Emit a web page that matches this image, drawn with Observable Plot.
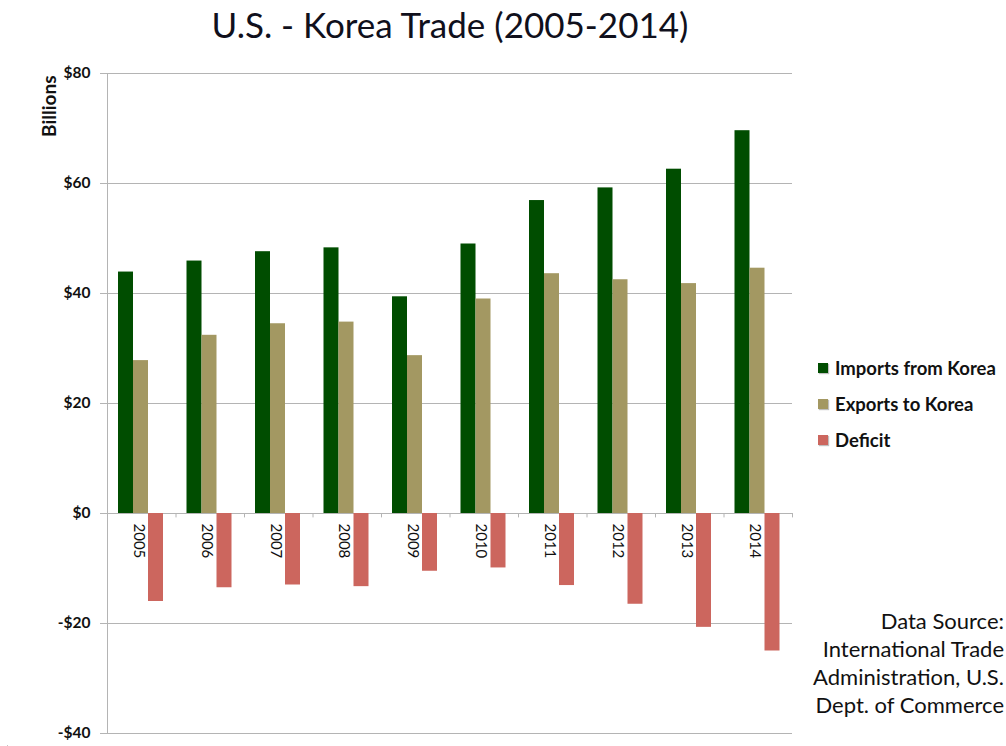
<!DOCTYPE html>
<html><head><meta charset="utf-8">
<script src="https://cdn.jsdelivr.net/npm/d3@7"></script>
<script src="https://cdn.jsdelivr.net/npm/@observablehq/plot@0.6"></script>
<style>
html,body{margin:0;padding:0;background:#fff;overflow:hidden;width:1006px;height:746px;}
#wrap{position:relative;width:1006px;height:746px;font-family:Lato,"Open Sans",sans-serif;}
#title{height:55px;width:900px;text-align:center;font-size:35px;line-height:38px;box-sizing:border-box;color:#10101c;}
#title span{position:relative;top:5px;}
#legend{position:absolute;left:818px;top:350px;font-weight:bold;font-size:18.5px;color:#111;}
#legend .row{height:36px;display:flex;align-items:center;white-space:nowrap;}
#legend .sw{width:10px;height:10px;margin-right:7px;box-shadow:1px 1px 1px rgba(0,0,0,0.25);}
#source{position:absolute;right:2px;top:607px;text-align:right;font-size:22px;line-height:28px;color:#111;white-space:nowrap;}
#edge{position:absolute;left:7px;top:62px;bottom:0;width:1px;background:#c4c4c4;}
#chart{position:absolute;left:0;top:55px;}
</style></head><body>
<div id="wrap">
  <div id="title"><span>U.S. - Korea Trade (2005-2014)</span></div>
  <div id="edge"></div>
  <div id="chart"></div>
  <div id="legend"></div>
  <div id="source">Data Source:<br>International Trade<br>Administration, U.S.<br>Dept. of Commerce</div>
</div>
<script>
// ---- data (billions of US dollars) ----
const years = [2005, 2006, 2007, 2008, 2009, 2010, 2011, 2012, 2013, 2014];
const importsFromKorea = [43.9, 45.9, 47.6, 48.3, 39.4, 49.0, 56.9, 59.2, 62.6, 69.6];
const exportsToKorea = [27.8, 32.4, 34.5, 34.8, 28.7, 39.0, 43.6, 42.5, 41.8, 44.6];
const deficit = [-16.0, -13.5, -13.0, -13.3, -10.5, -9.9, -13.1, -16.5, -20.7, -25.0];
const seriesNames = ["Imports from Korea", "Exports to Korea", "Deficit"];
const seriesColors = ["#004d00", "#a39862", "#cc665e"];
const yTicks = [-40, -20, 0, 20, 40, 60, 80];

const seriesValues = [importsFromKorea, exportsToKorea, deficit];
const rows = [];
seriesNames.forEach((s, k) => years.forEach((yr, i) => rows.push({series: s, year: String(yr), value: seriesValues[k][i]})));

const W = 800, H = 690, mL = 107, mR = 8, mT = 18, mB = 12;
const bw = (W - mL - mR) / years.length; // band width of one year
const barW = 15, groupOff = 11;
const grid = "#b4b4b4";
const money = d => d < 0 ? `-$${-d}` : `$${d}`;

const barMarks = seriesNames.map((s, k) => Plot.barY(rows.filter(r => r.series === s), {
  x: "year", y: "value", fill: seriesColors[k],
  insetLeft: groupOff + k * barW,
  insetRight: bw - groupOff - (k + 1) * barW,
  style: "filter: drop-shadow(1px 1px 1px rgba(0,0,0,0.3))"
}));

const yrs = years.map(String);
const chart = Plot.plot({
  width: W, height: H,
  marginLeft: mL, marginRight: mR, marginTop: mT, marginBottom: mB,
  style: {fontFamily: "Lato, sans-serif", background: "#fff", overflow: "visible"},
  x: {type: "band", domain: yrs, paddingInner: 0, paddingOuter: 0, round: false, axis: null},
  y: {domain: [-40, 80], ticks: yTicks},
  marks: [
    Plot.gridY(yTicks, {stroke: grid, strokeOpacity: 1}),
    Plot.axisY(yTicks, {tickSize: 7, tickPadding: 10, tickFormat: money, fontSize: 15.5, fontWeight: "bold", stroke: grid, fill: "#111", label: null}),
    Plot.frame({anchor: "left", stroke: grid}),
    Plot.ruleX(yrs, {x: d => d, y1: 0, y2: -0.8, dx: -bw / 2, stroke: grid}),
    Plot.ruleX([yrs[yrs.length - 1]], {x: d => d, y1: 0, y2: -0.8, dx: bw / 2, stroke: grid}),
    ...barMarks,
    Plot.text(yrs, {x: d => d, y: 0, text: d => d, rotate: 90, textAnchor: "start", dy: 10, dx: -3, fontSize: 15, fill: "#111"}),
    Plot.text(["Billions"], {frameAnchor: "top-left", text: d => d, rotate: -90, textAnchor: "end", dx: -65, dy: 2, fontSize: 19, fontWeight: "bold", fill: "#111"})
  ]
});
document.getElementById("chart").appendChild(chart);

const legend = document.getElementById("legend");
seriesNames.forEach((s, k) => {
  const row = document.createElement("div");
  row.className = "row";
  row.innerHTML = `<span class="sw" style="background:${seriesColors[k]}"></span><span>${s}</span>`;
  legend.appendChild(row);
});
</script>
</body></html>
